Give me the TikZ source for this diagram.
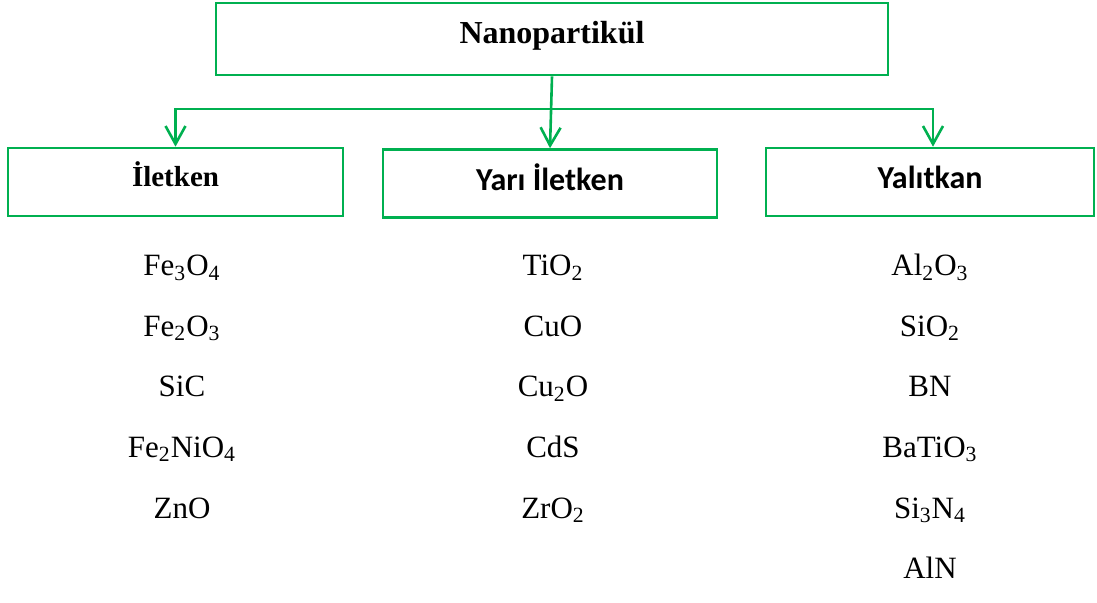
\documentclass[tikz,border=0pt]{standalone}
\usepackage{fontspec}
\setmainfont{Liberation Serif}
\newfontfamily\calibri{Carlito}
\usetikzlibrary{arrows.meta}
\definecolor{boxgreen}{RGB}{0,176,80}
\newcommand{\chs}[1]{\textsubscript{#1}}

\begin{document}
\begin{tikzpicture}
[x=0.5pt,y=-0.5pt,%
  box/.style={draw=boxgreen,line width=1.3pt,inner sep=0pt,minimum height=34pt,
    text height=10.5pt,text depth=5.5pt},%
  cbox/.style={box,text height=11.5pt,text depth=4.5pt,
    font=\fontsize{16}{19}\selectfont\calibri\bfseries},%
  link/.style={draw=boxgreen,line width=1.3pt,-{Straight Barb[length=9pt,width=10pt]}},%
  item/.style={inner sep=0pt,anchor=base,font=\fontsize{15.5}{18}\selectfont}]
\useasboundingbox (0,0) rectangle (1097,603);
% root
\node[box,minimum width=336pt,minimum height=36pt,
  font=\fontsize{16}{19}\selectfont\bfseries] (root) at (552,39) {Nanopartikül};
% three classes
\node[box,minimum width=167.5pt,font=\fontsize{14.5}{17}\selectfont\bfseries]
  (iletken) at (175.5,182) {İletken};
\node[cbox,minimum width=167pt] (yari) at (550,183.5) {Yarı İletken};
\node[cbox,minimum width=164pt] (yalitkan) at (930,182) {Yalıtkan};
% connectors
\coordinate (bus) at (552,109);
\draw[link] (root.south) -- (yari.north);
\draw[link] (bus) -| (iletken.north);
\draw[link] (bus) -| ([xshift=1.5pt]yalitkan.north);
% lists
\foreach \t [count=\i] in {Fe\chs{3}O\chs{4},Fe\chs{2}O\chs{3},SiC,
    Fe\chs{2}NiO\chs{4},ZnO}
  \node[item] (ilt-\i) at (182,{276+60.5*(\i-1)}) {\t};
\foreach \t [count=\i] in {TiO\chs{2},CuO,Cu\chs{2}O,CdS,ZrO\chs{2}}
  \node[item] (yar-\i) at (553,{276+60.5*(\i-1)}) {\t};
\foreach \t [count=\i] in {Al\chs{2}O\chs{3},SiO\chs{2},BN,BaTiO\chs{3},
    Si\chs{3}N\chs{4},AlN}
  \node[item] (yal-\i) at (930,{276+60.5*(\i-1)}) {\t};
\end{tikzpicture}
\end{document}
